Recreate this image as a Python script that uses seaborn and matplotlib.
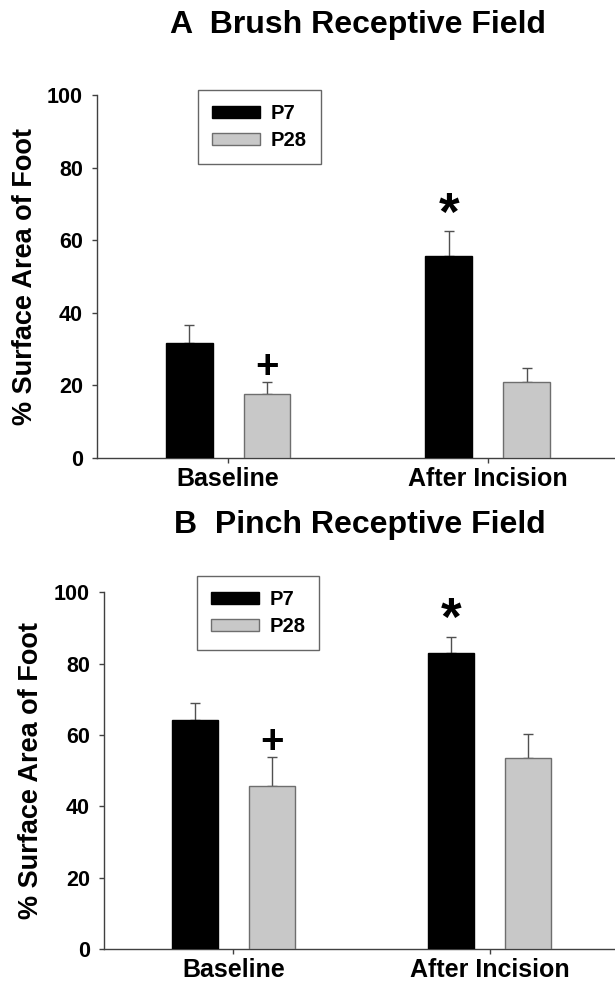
import matplotlib
matplotlib.use("Agg")
import matplotlib.pyplot as plt
import seaborn as sns
import pandas as pd
from matplotlib.patches import Patch

sns.set_style("ticks")
plt.rcParams['font.family'] = ['Liberation Sans', 'DejaVu Sans']
plt.rcParams['font.weight'] = 'bold'
plt.rcParams['text.color'] = 'black'
plt.rcParams['axes.labelcolor'] = 'black'
plt.rcParams['xtick.labelcolor'] = 'black'
plt.rcParams['ytick.labelcolor'] = 'black'

# Data
conditions = ['Baseline', 'After Incision']
ages = ['P7', 'P28']

brush_p7 = [31.7, 55.6]
brush_p28 = [17.6, 20.8]
brush_p7_sem = [4.9, 6.9]
brush_p28_sem = [3.4, 4.0]

pinch_p7 = [64.1, 83.0]
pinch_p28 = [45.8, 53.6]
pinch_p7_sem = [5.0, 4.6]
pinch_p28_sem = [8.1, 6.7]

bar_colors = ['#000000', '#c8c8c8']
edge_colors = ['#000000', '#6e6e6e']
axis_color = '#404040'


def make_df(p7, p28, p7_sem, p28_sem):
    return pd.DataFrame({
        'condition': conditions * 2,
        'age': [ages[0]] * 2 + [ages[1]] * 2,
        'value': p7 + p28,
        'sem': p7_sem + p28_sem,
    })


panels = [
    ('A  Brush Receptive Field', make_df(brush_p7, brush_p28, brush_p7_sem, brush_p28_sem)),
    ('B  Pinch Receptive Field', make_df(pinch_p7, pinch_p28, pinch_p7_sem, pinch_p28_sem)),
]

fig = plt.figure(figsize=(6.15, 9.83), dpi=100)
axes_rects = [[0.1582, 0.5344, 0.8418, 0.3690], [0.1696, 0.0343, 0.8304, 0.3632]]
title_pos = [(0.582, 0.9746), (0.585, 0.4662)]
legend_anchor = [(0.1945, 1.0138), (0.181, 1.0457)]
ylabel_x = [-0.1406, -0.1435]

for i, (title, df) in enumerate(panels):
    ax = fig.add_axes(axes_rects[i])
    sns.barplot(data=df, x='condition', y='value', hue='age', order=conditions,
                hue_order=ages, palette=bar_colors, width=0.6, gap=0.4,
                errorbar=None, legend=False, ax=ax)
    bar_groups = list(ax.containers)

    for k, cont in enumerate(bar_groups):
        sub = df[df['age'] == ages[k]].set_index('condition').loc[conditions]
        for bar, err in zip(cont, sub['sem']):
            bar.set_edgecolor(edge_colors[k])
            bar.set_linewidth(1.0)
            bar.set_zorder(3)
            cx = bar.get_x() + bar.get_width() / 2
            ax.errorbar(cx, bar.get_height(), yerr=[[0], [err]], fmt='none',
                        ecolor='#505050', elinewidth=1.0, capsize=3.6,
                        capthick=1.0, zorder=2)

    # significance marks: + over P28 Baseline, * over P7 After Incision
    p28_base = bar_groups[1][0]
    p7_after = bar_groups[0][1]
    top_plus = p28_base.get_height() + df.loc[(df.age == 'P28') & (df.condition == 'Baseline'), 'sem'].iloc[0]
    top_star = p7_after.get_height() + df.loc[(df.age == 'P7') & (df.condition == 'After Incision'), 'sem'].iloc[0]
    ax.annotate('+', (p28_base.get_x() + p28_base.get_width() / 2, top_plus),
                xytext=(0, 10.5), textcoords='offset points', ha='center',
                va='center', fontsize=29, fontweight='bold')
    ax.annotate('*', (p7_after.get_x() + p7_after.get_width() / 2, top_star),
                xytext=(0, 11), textcoords='offset points', ha='center',
                va='center', fontsize=38, fontweight='bold')

    ax.set_ylim(0, 100)
    ax.set_yticks([0, 20, 40, 60, 80, 100])
    ax.set_xlim(-0.504, 1.49)
    ax.set_xlabel('')
    ax.set_ylabel('% Surface Area of Foot', fontsize=19.5, fontweight='bold')
    ax.yaxis.set_label_coords(ylabel_x[i], 0.5)
    ax.yaxis.label.set_verticalalignment('center')

    for side in ['top', 'right']:
        ax.spines[side].set_visible(False)
    for side in ['left', 'bottom']:
        ax.spines[side].set_color(axis_color)
        ax.spines[side].set_linewidth(1.0)
    ax.tick_params(axis='y', length=3.3, width=1, color=axis_color, pad=7,
                   labelsize=15.5, labelcolor='black')
    ax.tick_params(axis='x', length=3.6, width=1, color=axis_color, pad=3,
                   labelsize=18, labelcolor='black')
    for lab in ax.get_xticklabels() + ax.get_yticklabels():
        lab.set_fontweight('bold')

    handles = [Patch(facecolor=bar_colors[k], edgecolor=edge_colors[k], label=ages[k])
               for k in range(2)]
    leg = ax.legend(handles=handles, loc='upper left', bbox_to_anchor=legend_anchor[i],
                    borderaxespad=0, frameon=True, fancybox=False,
                    prop={'size': 14.5, 'weight': 'bold'}, handlelength=2.4,
                    handleheight=0.5, handletextpad=0.5, labelspacing=0.4,
                    borderpad=0.7)
    leg.get_frame().set_edgecolor(axis_color)
    leg.get_frame().set_linewidth(1.0)
    for t in leg.get_texts():
        t.set_color('black')

    fig.text(title_pos[i][0], title_pos[i][1], title, ha='center', va='center',
             fontsize=23, fontweight='bold', color='black')

fig.savefig('out.png', dpi=100)
